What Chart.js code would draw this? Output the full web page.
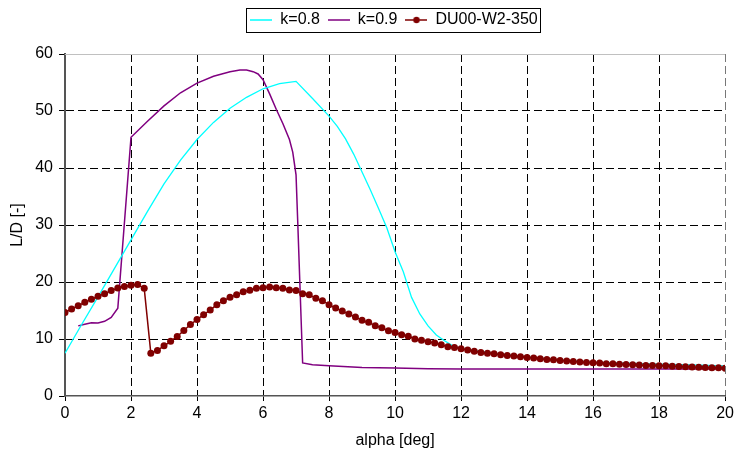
<!DOCTYPE html>
<html>
<head>
<meta charset="utf-8">
<script src="https://cdn.jsdelivr.net/npm/chart.js@4.4.1/dist/chart.umd.min.js"></script>
<style>
  html, body { margin: 0; padding: 0; background: #fff; }
  #wrap { width: 737px; height: 459px; }
</style>
</head>
<body>
<div id="wrap"><canvas id="ld" width="737" height="459"></canvas></div>
<script>
// angle of attack for the measured polar (0.2 deg steps)
var alphaDU = [0, 0.2, 0.4, 0.6, 0.8, 1, 1.2, 1.4, 1.6, 1.8, 2, 2.2, 2.4, 2.6, 2.8, 3, 3.2, 3.4, 3.6, 3.8,
  4, 4.2, 4.4, 4.6, 4.8, 5, 5.2, 5.4, 5.6, 5.8, 6, 6.2, 6.4, 6.6, 6.8, 7, 7.2, 7.4, 7.6, 7.8,
  8, 8.2, 8.4, 8.6, 8.8, 9, 9.2, 9.4, 9.6, 9.8, 10, 10.2, 10.4, 10.6, 10.8, 11, 11.2, 11.4, 11.6, 11.8,
  12, 12.2, 12.4, 12.6, 12.8, 13, 13.2, 13.4, 13.6, 13.8, 14, 14.2, 14.4, 14.6, 14.8, 15, 15.2, 15.4, 15.6, 15.8,
  16, 16.2, 16.4, 16.6, 16.8, 17, 17.2, 17.4, 17.6, 17.8, 18, 18.2, 18.4, 18.6, 18.8, 19, 19.2, 19.4, 19.6, 19.8, 20];
var ldDU = [14.67, 15.26, 15.85, 16.43, 16.96, 17.49, 17.96, 18.49, 18.95, 19.19, 19.42, 19.54, 18.89, 7.52, 8.0, 8.8, 9.6, 10.45, 11.5, 12.55,
  13.4, 14.27, 15.08, 16.02, 16.73, 17.31, 17.78, 18.31, 18.54, 18.89, 19.0, 19.12, 19.0, 18.89, 18.6, 18.49, 17.96, 17.78, 17.13, 16.73,
  16.02, 15.43, 14.9, 14.38, 13.85, 13.27, 12.92, 12.33, 11.98, 11.45, 11.16, 10.75, 10.5, 10.0, 9.8, 9.5, 9.28, 8.99, 8.64, 8.52,
  8.29, 8.05, 7.87, 7.64, 7.52, 7.41, 7.23, 7.12, 7.0, 6.88, 6.77, 6.65, 6.53, 6.41, 6.36, 6.24, 6.12, 6.06, 5.97, 5.86,
  5.84, 5.77, 5.66, 5.65, 5.59, 5.54, 5.48, 5.42, 5.37, 5.35, 5.3, 5.29, 5.24, 5.18, 5.12, 5.07, 5.05, 5.0, 4.96, 4.94, 4.89];

// k=0.8 computed polar
var alphaK08 = [0, 0.5, 1, 1.5, 2, 2.5, 3, 3.5, 4, 4.5, 5, 5.5, 6, 6.5, 7, 7.5, 8, 8.25, 8.5, 8.75, 9, 9.25, 9.5, 9.75,
  10, 10.25, 10.5, 10.75, 11, 11.25, 11.5, 11.75, 12, 12.5, 13, 14, 15, 16, 17, 18, 19, 20];
var ldK08 = [7.5, 12.5, 17.4, 22.4, 27.4, 32.4, 37.2, 41.4, 45.0, 48.0, 50.5, 52.4, 53.9, 54.8, 55.2, 52.2, 49.1, 47.3, 45.1, 42.4, 39.3, 36.2, 32.9, 29.5,
  25.3, 21.8, 17.3, 14.4, 12.3, 10.7, 9.7, 8.8, 8.35, 7.9, 7.5, 6.85, 6.35, 5.95, 5.75, 5.6, 5.45, 5.3];

// k=0.9 computed polar
var alphaK09 = [0.4, 0.6, 0.8, 1.0, 1.2, 1.4, 1.6, 2.0, 2.5, 3.0, 3.5, 4.0, 4.5, 5.0, 5.3, 5.5, 5.7, 5.85, 6.0, 6.2, 6.4, 6.6, 6.8, 6.9, 7.0, 7.05, 7.2,
  7.5, 8, 9, 10, 11, 12, 14, 16, 18, 20];
var ldK09 = [12.3, 12.6, 12.85, 12.8, 13.1, 13.8, 15.4, 45.4, 48.2, 50.9, 53.2, 54.9, 56.1, 56.9, 57.2, 57.2, 56.9, 56.5, 55.5, 53.0, 50.3, 47.8, 45.0, 42.8, 38.8, 30.8, 5.8,
  5.5, 5.3, 5.0, 4.9, 4.8, 4.75, 4.75, 4.75, 4.75, 4.75];

var xTicks = [0, 2, 4, 6, 8, 10, 12, 14, 16, 18, 20];
var yTicks = [0, 10, 20, 30, 40, 50, 60];

function pairs(xs, ys) {
  return xs.map(function (x, i) { return { x: x, y: ys[i] }; });
}

// little legend symbols: a short line, optionally with a dot in the middle
function legendSymbol(color, dot) {
  var c = document.createElement('canvas');
  c.width = 22; c.height = 10;
  var g = c.getContext('2d');
  g.strokeStyle = color;
  g.lineWidth = 1.5;
  g.beginPath(); g.moveTo(0, 5); g.lineTo(22, 5); g.stroke();
  if (dot) {
    g.fillStyle = color;
    g.beginPath(); g.arc(11, 5, 3.2, 0, Math.PI * 2); g.fill();
  }
  return c;
}

var FONT = "'Liberation Sans', Arial, sans-serif";

// legend sits centred over the plot area, a bit higher than default
var legendShift = {
  id: 'legendShift',
  afterLayout: function (chart) {
    var lg = chart.legend;
    var dx = 31, dy = -16;
    lg.left += dx; lg.right += dx;
    lg.top += dy; lg.bottom += dy;
  }
};

// box around the legend + solid top frame line
var framePlugin = {
  id: 'frame',
  afterDraw: function (chart) {
    var ctx = chart.ctx;
    var a = chart.chartArea;
    ctx.save();
    ctx.strokeStyle = '#c0c0c0';
    ctx.lineWidth = 1;
    ctx.beginPath(); ctx.moveTo(a.left, a.top + 0.5); ctx.lineTo(a.right, a.top + 0.5); ctx.stroke();
    var boxes = chart.legend.legendHitBoxes;
    if (boxes && boxes.length) {
      var l = Math.min.apply(null, boxes.map(function (b) { return b.left; }));
      var r = Math.max.apply(null, boxes.map(function (b) { return b.left + b.width; }));
      var t = boxes[0].top;
      var h = boxes[0].height;
      ctx.strokeStyle = '#000';
      ctx.strokeRect(Math.round(l - 4) + 0.5, Math.round(t - 4) + 0.5, Math.round(r - l + 7), Math.round(h + 8));
    }
    ctx.restore();
  }
};

var ctx = document.getElementById('ld').getContext('2d');
var chart = new Chart(ctx, {
  type: 'line',
  data: {
    datasets: [
      {
        label: 'k=0.8',
        data: pairs(alphaK08, ldK08),
        borderColor: '#00ffff',
        borderWidth: 1.3,
        pointRadius: 0,
        order: 2
      },
      {
        label: 'k=0.9',
        data: pairs(alphaK09, ldK09),
        borderColor: '#800080',
        borderWidth: 1.5,
        pointRadius: 0,
        order: 3
      },
      {
        label: 'DU00-W2-350',
        data: pairs(alphaDU, ldDU),
        borderColor: '#800000',
        backgroundColor: '#800000',
        borderWidth: 1.5,
        pointRadius: 3.5,
        pointBorderWidth: 0,
        pointBackgroundColor: '#800000',
        order: 1
      }
    ]
  },
  options: {
    responsive: false,
    animation: false,
    layout: { padding: { left: 0, right: 11, top: 20, bottom: 0 } },
    plugins: {
      tooltip: { enabled: false },
      legend: {
        position: 'top',
        labels: {
          color: '#000',
          font: { family: FONT, size: 16 },
          usePointStyle: true,
          pointStyleWidth: 22,
          padding: 8,
          generateLabels: function (chart) {
            return chart.data.datasets.map(function (ds, i) {
              return {
                text: ds.label,
                pointStyle: legendSymbol(ds.borderColor, i === 2),
                fillStyle: ds.borderColor,
                strokeStyle: ds.borderColor,
                lineWidth: 0,
                hidden: false,
                datasetIndex: i
              };
            });
          }
        }
      }
    },
    scales: {
      x: {
        type: 'linear',
        min: 0,
        max: 20,
        afterBuildTicks: function (s) { s.ticks = xTicks.map(function (v) { return { value: v }; }); },
        afterFit: function (s) { s.height = 63; },
        title: { display: true, text: 'alpha [deg]', color: '#000', font: { family: FONT, size: 16 }, padding: { top: 0, bottom: 9 } },
        ticks: { color: '#000', font: { family: FONT, size: 16 }, padding: 3, maxRotation: 0 },
        grid: {
          color: function (c) {
            if (!c.tick) return '#000';
            if (c.tick.value === 0) return 'rgba(0,0,0,0)';
            return c.tick.value === 20 ? '#777' : '#000';
          },
          lineWidth: 1,
          tickLength: 5,
          tickColor: '#000'
        },
        border: { display: true, color: '#555', width: 1.5, dash: [8, 4] }
      },
      y: {
        min: 0,
        max: 60,
        afterBuildTicks: function (s) { s.ticks = yTicks.map(function (v) { return { value: v }; }); },
        afterFit: function (s) { s.width = 65; },
        title: { display: true, text: 'L/D [-]', color: '#000', font: { family: FONT, size: 16 }, padding: { top: 8, bottom: 0 } },
        ticks: { color: '#000', font: { family: FONT, size: 16 }, padding: 6 },
        grid: {
          color: function (c) { return c.tick && (c.tick.value === 0 || c.tick.value === 60) ? 'rgba(0,0,0,0)' : '#000'; },
          lineWidth: 1,
          tickLength: 6,
          tickColor: '#000'
        },
        border: { display: true, color: '#555', width: 2, dash: [8, 4] }
      }
    }
  },
  plugins: [legendShift, framePlugin]
});
</script>
</body>
</html>
